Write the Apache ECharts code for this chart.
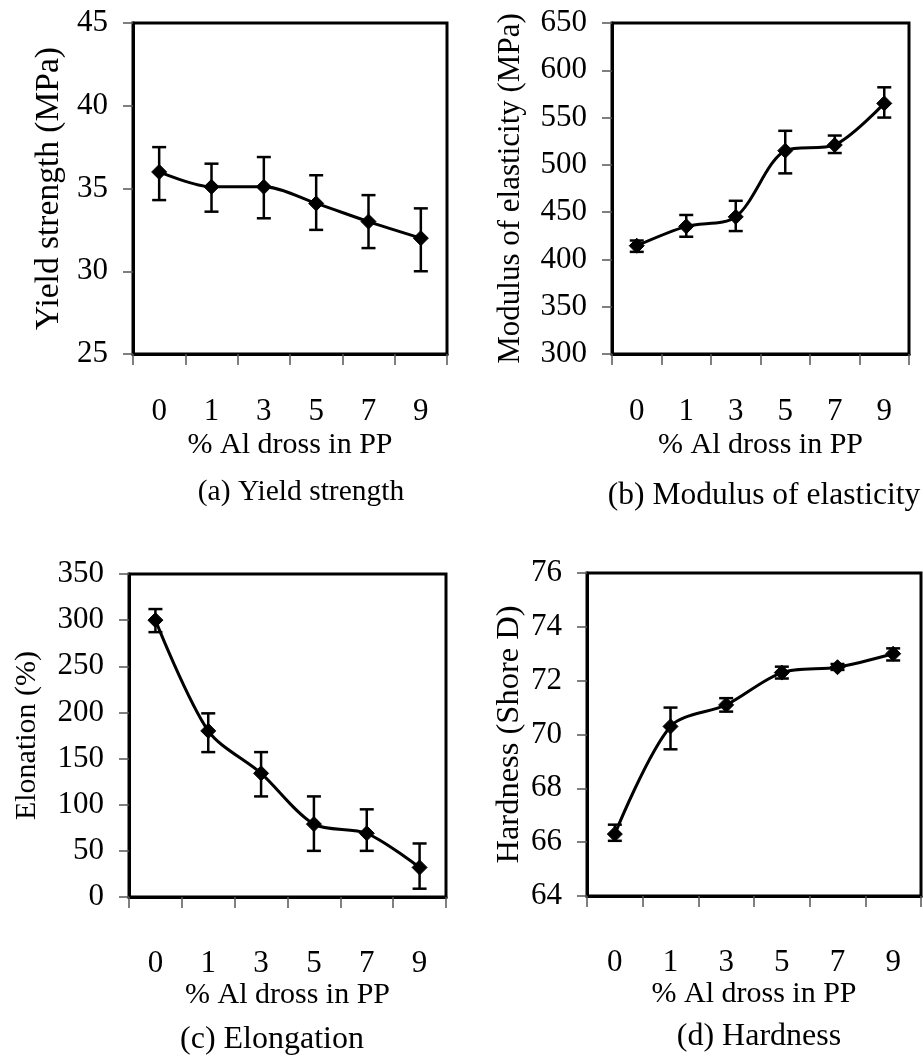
<!DOCTYPE html>
<html>
<head>
<meta charset="utf-8">
<script src="https://cdn.jsdelivr.net/npm/echarts@6/dist/echarts.min.js"></script>
<style>
html,body{margin:0;padding:0;background:#fff;}
#chart{width:923px;height:1057px;}
</style>
</head>
<body>
<div id="chart"></div>
<script>
// ---- data ----
const categories = ['0', '1', '3', '5', '7', '9'];

const yieldVals = [36.0, 35.1, 35.1, 34.1, 33.0, 32.0];
const yieldLow  = [34.3, 33.6, 33.2, 32.5, 31.4, 30.0];
const yieldHigh = [37.5, 36.5, 36.9, 35.8, 34.6, 33.8];

const modulusVals = [414.5, 435, 445, 515, 521, 565];
const modulusLow  = [408, 424, 430, 491, 512.5, 550];
const modulusHigh = [420, 447, 462, 536, 531, 582];

const elongVals = [300, 180, 134, 79, 69, 32];
const elongLow  = [287, 157, 109, 50, 50, 9];
const elongHigh = [312, 199, 157, 109, 95, 58];

const hardVals = [66.3, 70.3, 71.1, 72.3, 72.5, 73.0];
const hardLow  = [66.05, 69.45, 70.85, 72.08, 72.4, 72.75];
const hardHigh = [66.65, 71.0, 71.35, 72.52, 72.62, 73.2];

const xTitle = '% Al dross in PP';
const yTitles = ['Yield strength (MPa)', 'Modulus of elasticity (MPa)', 'Elonation (%)', 'Hardness (Shore D)'];
const subTitles = ['(a) Yield strength', '(b) Modulus of elasticity', '(c) Elongation', '(d) Hardness'];
const yRanges = [[25, 45, 5], [300, 650, 50], [0, 350, 50], [64, 76, 2]];

// ---- layout ----
const FONT = 'Liberation Serif';
const grids = [
  {left: 133, top: 23, width: 314, height: 331},
  {left: 612, top: 23, width: 297, height: 331},
  {left: 129, top: 574, width: 317, height: 323},
  {left: 587, top: 573, width: 334, height: 323}
];
const yNameGaps = [67, 86, 87, 61];
const yNameSizes = [33.5, 31, 30, 32.5];
const xLabelMargins = [42, 42, 51, 51];
const xNameGaps = [76, 76, 83, 83];
const subPos = [[301, 492], [764, 496], [272, 1040], [759, 1037]];
const subSizes = [29.5, 31.5, 32, 32];

const seriesSets = [
  [yieldVals, yieldLow, yieldHigh],
  [modulusVals, modulusLow, modulusHigh],
  [elongVals, elongLow, elongHigh],
  [hardVals, hardLow, hardHigh]
];

const xAxes = [], yAxes = [], series = [];
for (let i = 0; i < 4; i++) {
  xAxes.push({
    type: 'category', gridIndex: i, data: categories, boundaryGap: true,
    axisLine: {show: true, lineStyle: {color: '#000', width: 3}},
    axisTick: {show: true, inside: false, length: 11, lineStyle: {color: '#555', width: 1.5}},
    axisLabel: {fontFamily: FONT, fontSize: 31, color: '#000', margin: xLabelMargins[i]},
    name: xTitle, nameLocation: 'middle', nameGap: xNameGaps[i],
    nameTextStyle: {fontFamily: FONT, fontSize: 30, color: '#000'},
    splitLine: {show: false}
  });
  yAxes.push({
    type: 'value', gridIndex: i, min: yRanges[i][0], max: yRanges[i][1], interval: yRanges[i][2],
    axisLine: {show: true, lineStyle: {color: '#000', width: 3}},
    axisTick: {show: true, inside: false, length: 10, lineStyle: {color: '#555', width: 1.5}},
    axisLabel: {fontFamily: FONT, fontSize: 31, color: '#000', margin: 25},
    name: yTitles[i], nameLocation: 'middle', nameGap: yNameGaps[i], nameRotate: 90,
    nameTextStyle: {fontFamily: FONT, fontSize: yNameSizes[i], color: '#000'},
    splitLine: {show: false}
  });
  const [vals, low, high] = seriesSets[i];
  series.push({
    type: 'line', xAxisIndex: i, yAxisIndex: i, data: vals, smooth: 0.3,
    symbol: 'diamond', symbolSize: 15, showAllSymbol: true,
    lineStyle: {color: '#000', width: 3},
    itemStyle: {color: '#000', borderColor: '#000'},
    z: 3, animation: false
  });
  series.push({
    type: 'custom', xAxisIndex: i, yAxisIndex: i,
    data: categories.map((c, k) => [k, low[k], high[k]]),
    renderItem: function (params, api) {
      const x = api.value(0);
      const lo = api.coord([x, api.value(1)]);
      const hi = api.coord([x, api.value(2)]);
      const hw = 7;
      const st = {stroke: '#000', lineWidth: 2.5, fill: null};
      return {
        type: 'group',
        children: [
          {type: 'line', shape: {x1: lo[0], y1: lo[1], x2: hi[0], y2: hi[1]}, style: st},
          {type: 'line', shape: {x1: lo[0] - hw, y1: lo[1], x2: lo[0] + hw, y2: lo[1]}, style: st},
          {type: 'line', shape: {x1: hi[0] - hw, y1: hi[1], x2: hi[0] + hw, y2: hi[1]}, style: st}
        ]
      };
    },
    z: 4, animation: false
  });
}

const graphicEls = subTitles.map((t, i) => ({
  type: 'text', x: subPos[i][0], y: subPos[i][1],
  style: {text: t, fontFamily: FONT, fontSize: subSizes[i], fill: '#000', align: 'center', verticalAlign: 'middle'}
}));

const chart = echarts.init(document.getElementById('chart'), null, {renderer: 'canvas'});
chart.setOption({
  animation: false,
  backgroundColor: '#fff',
  grid: grids.map(g => Object.assign({show: true, borderColor: '#000', borderWidth: 3, backgroundColor: 'transparent'}, g)),
  xAxis: xAxes,
  yAxis: yAxes,
  series: series,
  graphic: graphicEls
});
</script>
</body>
</html>
